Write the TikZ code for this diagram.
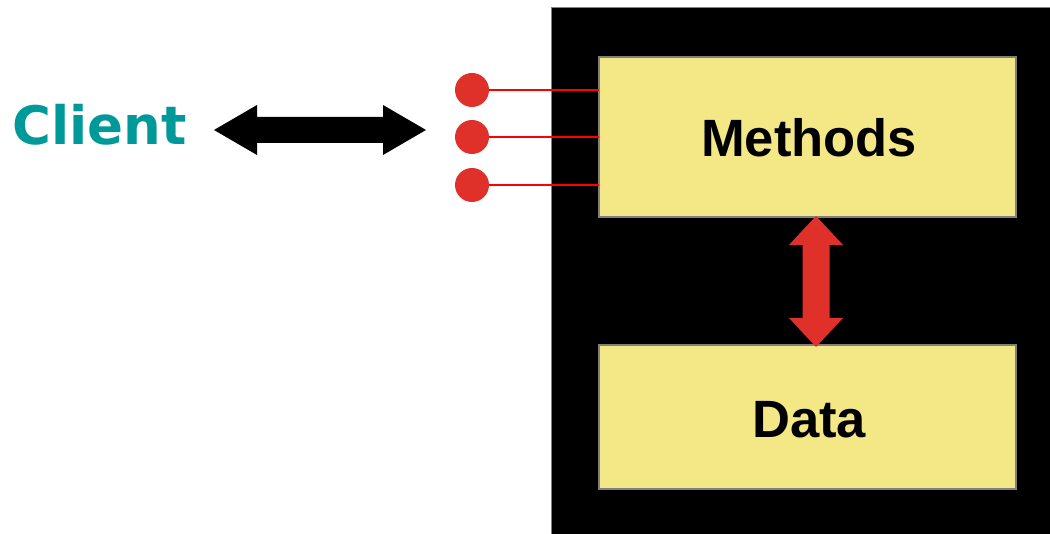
\documentclass[tikz,border=0pt]{standalone}
\usepackage{fontspec}
\setmainfont{Liberation Sans}
\newfontfamily\clientfont{DejaVu Sans}
\definecolor{clientteal}{HTML}{009999}
\definecolor{boxyellow}{HTML}{F4E886}
\definecolor{dotred}{HTML}{E0302A}
\definecolor{boxgray}{HTML}{808080}
\tikzset{
  ybox/.style={fill=boxyellow, draw=boxgray, line width=2pt},
  reddot/.style={circle, fill=dotred, minimum size=34pt, inner sep=0pt},
  port/.style={draw=red, line width=2pt},
  lbl/.style={inner sep=0pt, anchor=base, font=\bfseries\fontsize{52.5}{60}\selectfont},
}
\begin{document}
\begin{tikzpicture}[x=1pt,y=1pt]
\useasboundingbox (0,0) rectangle (1050,534);
% object
\path[fill=black, draw=boxgray, line width=1pt] (551,-2) rectangle (1052,526);
% boxes
\draw[ybox] (599,317) rectangle (1016,477);
\draw[ybox] (599,45) rectangle (1016,189);
\coordinate (mwest1) at (599,444);
\coordinate (mwest2) at (599,397);
\coordinate (mwest3) at (599,349);
% ports
\node[reddot] (d1) at (472,444) {};
\node[reddot] (d2) at (472,397) {};
\node[reddot] (d3) at (472,349) {};
\draw[port] (d1.center) ++(17,0) -- (mwest1);
\draw[port] (d2.center) ++(17,0) -- (mwest2);
\draw[port] (d3.center) ++(17,0) -- (mwest3);
% labels
\node[lbl] (m) at (809,377) {Methods};
\node[lbl] (d) at (809,96) {Data};
\node[inner sep=0pt, anchor=base west, text=clientteal, font=\clientfont\bfseries\fontsize{53}{60}\selectfont] (c) at (12,389) {Client};
% black double arrow
\fill[black] (214,404) -- (257,429) -- (257,417) -- (383,417) -- (383,429) -- (426,404)
  -- (383,379) -- (383,391) -- (257,391) -- (257,379) -- cycle;
% red double arrow
\fill[dotred] (816,318) -- (843,289) -- (829.5,289) -- (829.5,216) -- (843,216) -- (816,187)
  -- (789,216) -- (802.5,216) -- (802.5,289) -- (789,289) -- cycle;
\end{tikzpicture}
\end{document}
